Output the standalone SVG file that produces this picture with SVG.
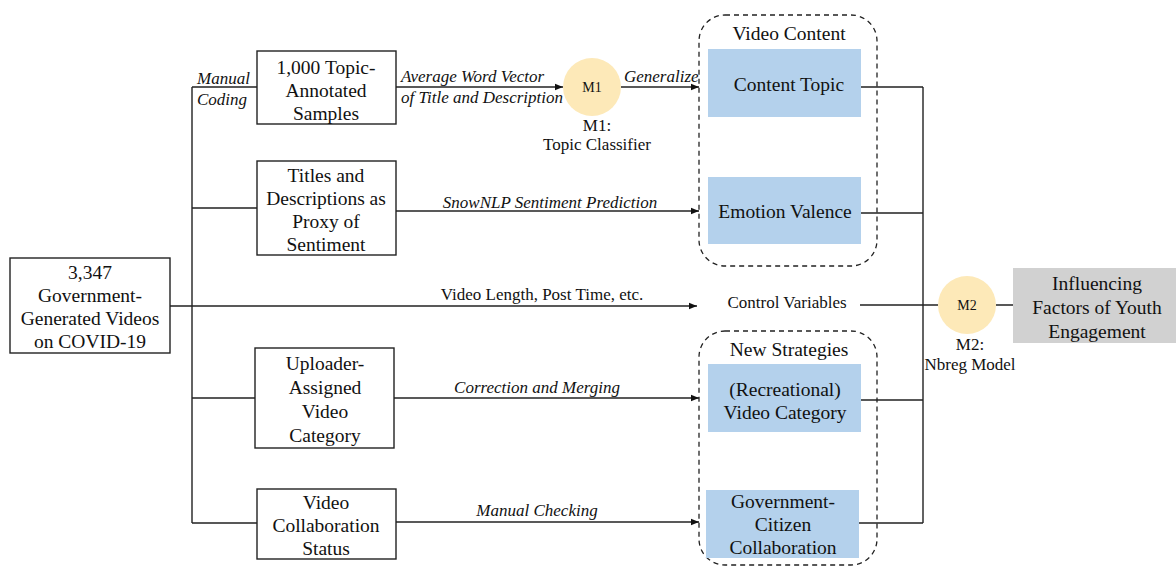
<svg xmlns="http://www.w3.org/2000/svg" width="1176" height="566" viewBox="0 0 1176 566" font-family="'Liberation Serif', 'Times New Roman', serif">
<defs>
<marker id="arr" viewBox="0 0 10 10" refX="10" refY="5" markerWidth="8" markerHeight="8" markerUnits="userSpaceOnUse" orient="auto">
<path d="M0,1 L10,5 L0,9 z" fill="#111"/>
</marker>
</defs>
<style>
text{font-family:'Liberation Serif','Times New Roman',serif}
.t{font-size:19.5px;fill:#111;text-anchor:middle}
.m{font-size:17px;fill:#111;text-anchor:middle}
.i{font-size:17px;font-style:italic;fill:#111}
.s{font-size:14px;fill:#111;text-anchor:middle}
.box{fill:#fff;stroke:#222;stroke-width:1.4}
.blue{fill:#b4d1ec}
.circ{fill:#fde9b8}
.dash{fill:none;stroke:#222;stroke-width:1.3;stroke-dasharray:5,4}
.ln{fill:none;stroke:#222;stroke-width:1.4}
</style>
<rect width="1176" height="566" fill="#fff"/>

<g id="connectors">
<path class="ln" d="M170,306 H192 M192,87 V523 M192,87 H257 M192,208 H257 M192,398 H255 M192,523 H257"/>
<path class="ln" d="M192,306 H697" marker-end="url(#arr)"/>
<path class="ln" d="M396,87 H563" marker-end="url(#arr)"/>
<path class="ln" d="M621,87 H699" marker-end="url(#arr)"/>
<path class="ln" d="M396,211 H699" marker-end="url(#arr)"/>
<path class="ln" d="M394,398 H699" marker-end="url(#arr)"/>
<path class="ln" d="M396,522 H699" marker-end="url(#arr)"/>
<path class="ln" d="M861,87 H923 M861,213 H923 M861,400 H923 M859,523 H923 M923,87 V523 M860,305 H938 M996,305 H1013"/>
<text class="i" x="197" y="84">Manual</text>
<text class="i" x="197" y="105">Coding</text>
<text class="i" x="401" y="82">Average Word Vector</text>
<text class="i" x="401" y="103">of Title and Description</text>
<text class="i" x="624" y="82">Generalize</text>
<text class="i" x="550" y="208" text-anchor="middle">SnowNLP Sentiment Prediction</text>
<text class="m" x="542" y="300">Video Length, Post Time, etc.</text>
<text class="i" x="537" y="393" text-anchor="middle">Correction and Merging</text>
<text class="i" x="537" y="516" text-anchor="middle">Manual Checking</text>
</g>

<g id="source">
<rect class="box" x="10" y="258" width="160" height="95"/>
<text class="t" x="90" y="279">3,347</text>
<text class="t" x="90" y="302">Government-</text>
<text class="t" x="90" y="325">Generated Videos</text>
<text class="t" x="90" y="348">on COVID-19</text>
</g>

<g id="samples">
<rect class="box" x="257" y="51" width="139" height="73"/>
<text class="t" x="326" y="74">1,000 Topic-</text>
<text class="t" x="326" y="97">Annotated</text>
<text class="t" x="326" y="120">Samples</text>
</g>

<g id="titles">
<rect class="box" x="257" y="161" width="139" height="94"/>
<text class="t" x="326" y="182">Titles and</text>
<text class="t" x="326" y="205">Descriptions as</text>
<text class="t" x="326" y="228">Proxy of</text>
<text class="t" x="326" y="251">Sentiment</text>
</g>

<g id="uploader">
<rect class="box" x="255" y="348" width="139" height="100"/>
<text class="t" x="325" y="370">Uploader-</text>
<text class="t" x="325" y="394">Assigned</text>
<text class="t" x="325" y="418">Video</text>
<text class="t" x="325" y="442">Category</text>
</g>

<g id="collab">
<rect class="box" x="257" y="489" width="139" height="70"/>
<text class="t" x="326" y="509">Video</text>
<text class="t" x="326" y="532">Collaboration</text>
<text class="t" x="326" y="555">Status</text>
</g>

<g id="m1">
<circle class="circ" cx="592" cy="87" r="29"/>
<text class="s" x="592" y="92">M1</text>
<text class="m" x="597" y="131">M1:</text>
<text class="m" x="597" y="150">Topic Classifier</text>
</g>

<g id="video-content">
<rect class="dash" x="699" y="15" width="178" height="251" rx="26"/>
<text class="t" x="789" y="40">Video Content</text>
<rect class="blue" x="708" y="49" width="153" height="68"/>
<text class="t" x="789" y="91">Content Topic</text>
<rect class="blue" x="708" y="177" width="153" height="67"/>
<text class="t" x="785" y="218">Emotion Valence</text>
</g>

<g id="control">
<text class="m" x="787" y="308">Control Variables</text>
</g>

<g id="new-strategies">
<rect class="dash" x="699" y="331" width="178" height="234" rx="26"/>
<text class="t" x="789" y="356">New Strategies</text>
<rect class="blue" x="708" y="364" width="153" height="68"/>
<text class="t" x="785" y="396">(Recreational)</text>
<text class="t" x="785" y="419">Video Category</text>
<rect class="blue" x="706" y="490" width="153" height="68"/>
<text class="t" x="783" y="508">Government-</text>
<text class="t" x="783" y="531">Citizen</text>
<text class="t" x="783" y="554">Collaboration</text>
</g>

<g id="m2">
<circle class="circ" cx="967" cy="305" r="29"/>
<text class="s" x="967" y="310">M2</text>
<text class="m" x="970" y="350">M2:</text>
<text class="m" x="970" y="370">Nbreg Model</text>
</g>

<g id="outcome">
<rect x="1013" y="268" width="163" height="75" fill="#d1d1d1"/>
<text class="t" x="1097" y="290">Influencing</text>
<text class="t" x="1097" y="314">Factors of Youth</text>
<text class="t" x="1097" y="338">Engagement</text>
</g>
</svg>
